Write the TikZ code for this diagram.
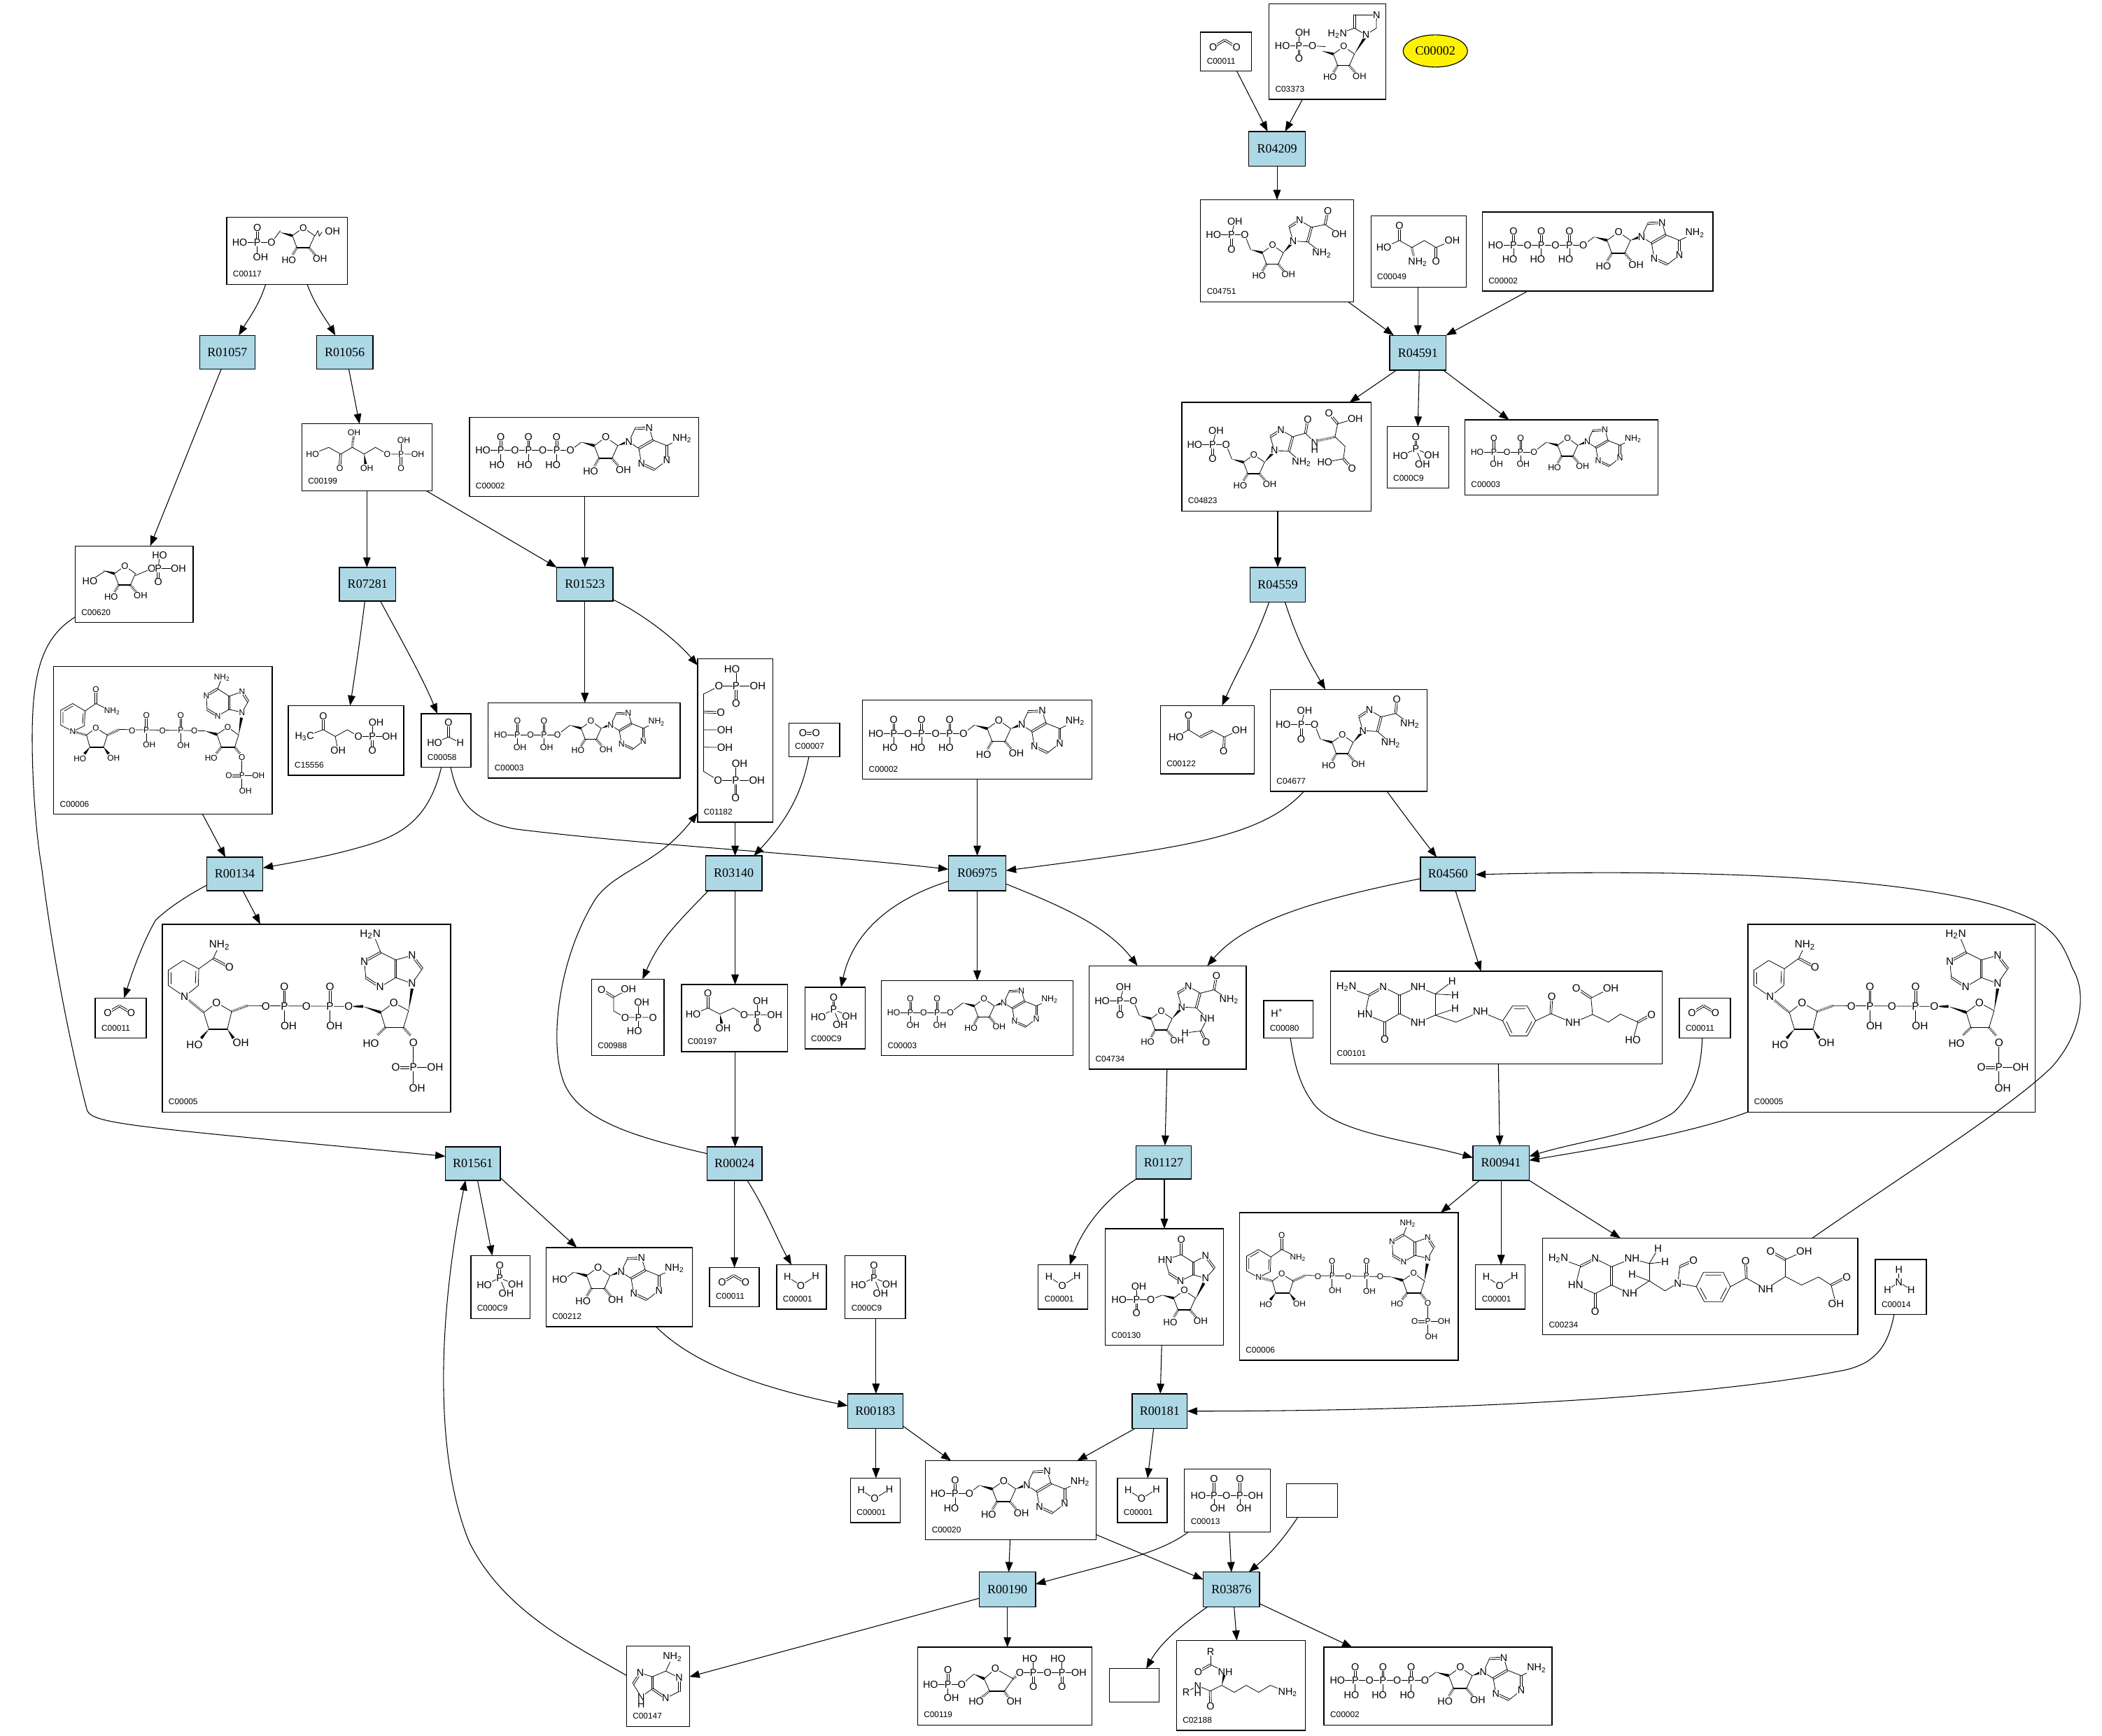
\documentclass[tikz,border=0pt]{standalone}
\usepackage{fontspec}
\usetikzlibrary{arrows.meta,calc,shapes.geometric}
\setmainfont{Liberation Serif}
\newfontfamily\afam{Liberation Sans}
\newcount\atc
\def\afs{7.5}
\def\At(#1)#2{\global\advance\atc by 1 \node[atm] (at\the\atc) at (#1) {#2};}
\def\Bd(#1)(#2){\draw[bd] (#1)--(#2);}
\def\Db(#1)(#2){\draw[bd] ($(#1)!.7pt!90:(#2)$)--($(#2)!.7pt!-90:(#1)$);\draw[bd] ($(#1)!.7pt!-90:(#2)$)--($(#2)!.7pt!90:(#1)$);}
\def\Wd(#1)(#2){\fill ($(#2)!1.1pt!90:(#1)$)--($(#2)!1.1pt!-90:(#1)$)--(#1)--cycle;}
\def\Hs(#1)(#2){\draw[line width=1.9pt,dash pattern=on .35pt off .75pt] (#1)--(#2);}
\def\Sc(#1,#2)#3{\begin{scope}[shift={(#1,#2)}]#3\end{scope}}
\def\Scs(#1,#2,#3)#4{\begin{scope}[shift={(#1,#2)},scale=#3,transform shape]#4\end{scope}}
% phosphate with O above and HO / OH below
\def\PuA(#1,#2){\Sc(#1,#2){\Db(0,0)(0,-10.1)\Bd(0,0)(0,10.8)\At(0,-10.1){O}\At(-2.8,10.8){HO}\At(0,0){P}}}
\def\PuB(#1,#2){\Sc(#1,#2){\Db(0,0)(0,-12.3)\Bd(0,0)(0,10.7)\At(0,-12.3){O}\At(2.3,10.7){OH}\At(0,0){P}}}
% ribose ring, origin at ring O
\def\Rib{\draw[bd] (0,0)--(8.9,6.2)--(4.6,15.7);\draw[bd,line width=.8pt] (4.6,15.7)--(-5,15.7);\draw[bd] (-5,15.7)--(-8.6,6.2)--(0,0);
 \Wd(-18.2,3.6)(-8.6,6.2)\Hs(-5,15.7)(-8.5,21.5)\Hs(4.6,15.7)(9.5,21.5)\At(0,0){O}\At(-11.3,25.4){HO}\At(13.1,24.4){OH}}
% adenine, origin at N9
\def\Adn{\Bd(0,0)(4.6,-9.9)\Db(4.6,-9.9)(15.2,-10.4)\Bd(15.2,-10.4)(18,-1.3)\Db(18,-1.3)(7.4,4.9)\Bd(7.4,4.9)(0,0)\Bd(18,-1.3)(28.2,2.8)\Db(28.2,2.8)(28.2,13.8)\Bd(28.2,13.8)(19.2,20.8)\Db(19.2,20.8)(9.4,16.2)\Bd(9.4,16.2)(7.4,4.9)\Bd(28.2,2.8)(39.7,-2.7)
 \At(0,0){N}\At(15.2,-10.4){N}\At(28.2,13.8){N}\At(9.4,16.2){N}\At(39.7,-2.7){NH\textsubscript{2}}}
% adenosine, origin at ring O
\def\Ado{\Bd(-18.2,3.6)(-26.3,9.7)\Rib\Wd(8.9,6.2)(15.6,3.7)\Sc(17.2,3.4){\Adn}}
\def\mATP{\Bd(10,24.7)(75.3,24.7)\Sc(101.6,15){\Ado}\At(10,24.7){HO}\PuA(23.3,24.7)\At(33.9,24.7){O}\PuA(44,24.7)\At(54.6,24.7){O}\PuA(65,24.7)\At(75.3,24.7){O}}
\def\mADP{\Bd(10.7,27.9)(59.9,27.9)\Bd(62.7,25.5)(59.9,27.9)\Sc(89,15.8){\Ado}\At(10.7,27.9){HO}\PuB(25.2,27.9)\At(36.6,27.9){O}\PuB(48.3,27.9)\At(59.9,27.9){O}}
\def\mAMP{\Bd(9.3,24.5)(32.7,24.5)\Sc(58.3,14.8){\Ado}\At(9.3,24.5){HO}\PuA(22,24.5)\At(32.7,24.5){O}}
\def\mAdo{\Sc(38.9,14.8){\Ado}\At(10.3,23.8){HO}}
\def\mCO{\Db(9.3,11.1)(18,5.9)\Db(18,5.9)(26.8,11.1)\At(9.3,11.1){O}\At(26.8,11.1){O}}
\def\mWat{\Bd(8,8.9)(18,15.3)\Bd(18,15.3)(29,8.3)\At(8,8.9){H}\At(29,8.3){H}\At(18,15.3){O}}
\def\mPi{\Db(21.5,7.6)(21.5,16.7)\Bd(21.5,16.7)(10,22)\Bd(21.5,16.7)(33.4,21.6)\Bd(21.5,16.7)(26.4,28.2)\At(21.5,7.6){O}\At(21.5,16.7){P}\At(10,22){HO}\At(33.4,21.6){OH}\At(26.4,28.2){OH}}
\def\mPP{\Bd(10.3,19.8)(53,19.8)\Db(22,7.7)(22,19.8)\Db(41.3,7.7)(41.3,19.8)\Bd(22,19.8)(22,29.6)\Bd(41.3,19.8)(41.3,29.6)\At(22,7.7){O}\At(41.3,7.7){O}\At(10.3,19.8){HO}\At(22,19.8){P}\At(31.3,19.8){O}\At(41.3,19.8){P}\At(53,19.8){OH}\At(24.7,29.6){OH}\At(44.3,29.6){OH}}
\def\mROneP{\Bd(9.7,18.8)(33.4,18.8)\Db(22.8,7.8)(22.8,18.8)\Bd(22.8,18.8)(22.8,29.5)\Bd(33.4,18.8)(40,10)\Scs(57.1,7.8,.95){\Rib}\draw[bd] (66,13.6)--(68,10)--(69,14)--(71,11);\At(9.7,18.8){HO}\At(22.8,18.8){P}\At(25.3,29.5){OH}\At(22.8,7.8){O}\At(33.4,18.8){O}\At(78.9,10.3){OH}}
\def\mRuP{\def\afs{6.4}\draw[bd] (8,22.5)--(20,17.5)--(29,22.5)--(37.6,17.5)--(46.5,22.5)--(54.9,17.5)--(63.7,22.5)--(86.4,22.5);\Db(29,22.5)(28.3,33)\Hs(37.6,17.5)(38.6,9)\Wd(46.5,22.5)(47.5,30)\Db(74,22.5)(74,33)\Bd(74,22.5)(74,12.2)\At(8,22.5){HO}\At(28.3,33){O}\At(39,6.6){OH}\At(48.5,33){OH}\At(63.7,22.5){O}\At(74,22.5){P}\At(76,12.2){OH}\At(86.4,22.5){OH}\At(74,33){O}}
\def\mRoneP{\Bd(11,26)(22,19)\Bd(45,22)(57,17)\Bd(57,17)(77,17)\Bd(62,17)(63,7)\Db(62,17)(62,27)\Scs(37,15,.9){\Rib}\At(11,26){HO}\At(57,17){O}\At(62,17){P}\At(63,7){HO}\At(77,17){OH}\At(62,27){O}}
\def\mNADP{\def\afs{6.2}\draw[bd] (14.2,27.5)--(5.3,32.5);\draw[bd] (5.3,32.5)--(5.3,43.5)--(14.2,48.3)--(23,44)--(23.4,33)--(14.2,27.5);\draw[bd] (7,34)--(7,42)(22,35)--(21.7,42.5)(14.4,29.3)--(8,33);\Bd(23.4,33)(31.5,27.5)\Db(31.5,27.5)(31.5,17.1)\Bd(31.5,27.5)(43.6,33.4)
 \Hs(14.2,48.3)(24.5,51)\draw[bd] (31.5,45.7)--(24.5,51)--(27,60);\draw[bd,line width=.8pt](27,60)--(37.2,60);\draw[bd] (37.2,60)--(40,51)--(31.5,45.7);\Wd(27,60)(23,65)\Wd(37.2,60)(41,65)\Hs(40,51)(49,46.8)\Bd(49,46.8)(104.9,47.7)\Db(69.1,47.3)(69.1,36.3)\Bd(69.1,47.3)(69.1,58)\Db(94.7,47.3)(94.7,36.3)\Bd(94.7,47.3)(94.7,58)
 \Wd(112.8,47.9)(121.7,50.5)\Bd(104.9,47.7)(112.8,47.9)\draw[bd] (121.7,50.5)--(129.8,45)--(137.9,51)--(135,60);\draw[bd,line width=.8pt](135,60)--(125,60);\draw[bd] (125,60)--(121.7,50.5);\Hs(125,60)(121,65)\Hs(135,60)(139,65)\Wd(137.9,51)(140,38)\Bd(140.4,67.7)(140.4,92)\Db(130.6,81.3)(140.4,81.3)\Bd(140.4,81.3)(152.6,81.3)
 \Bd(140.4,34)(145,26)\Db(145,26)(140.4,18.7)\Bd(140.4,18.7)(130.8,22)\Db(130.8,22)(130.8,31.9)\Bd(130.8,31.9)(140.4,34)\Bd(130.8,31.9)(122.3,36.7)\Db(122.3,36.7)(114.4,31.9)\Bd(114.4,31.9)(113.8,21.5)\Db(113.8,21.5)(122.3,16.5)\Bd(122.3,16.5)(130.8,22)\Bd(122.3,16.5)(125.5,8)
 \At(14.2,48.3){N}\At(31.5,17.1){O}\At(43.6,33.4){NH\textsubscript{2}}\At(31.5,45.7){O}\At(19.6,68.6){HO}\At(44.7,68){OH}\At(58.5,47.7){O}\At(69.1,47.3){P}\At(69.1,36.3){O}\At(71.3,58.2){OH}\At(81.1,47.7){O}\At(94.7,47.3){P}\At(94.7,36.3){O}\At(96.8,58.7){OH}\At(104.9,47.7){O}\At(129.8,45){O}\At(117.4,68){HO}\At(140.4,67.7){O}\At(140.4,81.3){P}\At(130.6,81.3){O}\At(152.6,81.3){OH}\At(143,92.7){OH}\At(140.4,34){N}\At(140.4,18.7){N}\At(122.3,36.7){N}\At(113.8,21.5){N}\At(125.5,8){NH\textsubscript{2}}}
\def\mNADPH{\def\afs{8}\draw[bd] (15.5,27)--(4.5,34.3)--(4.5,45.7)--(16.6,54)--(26.8,45.7)--(27.2,33.2)--(15.5,27);\draw[bd] (6.5,36)--(6.5,44.5)(25,35)--(24.7,44);\Bd(27.2,33.2)(37.9,25.5)\Bd(37.9,25.5)(42.6,15.6)\Db(37.9,25.5)(50,32)
 \Hs(16.6,54)(30.9,65.8)\draw[bd] (40.4,58.5)--(30.9,65.8)--(34.7,78.2);\draw[bd,line width=.9pt](34.7,78.2)--(48.5,78.2);\draw[bd] (48.5,78.2)--(51.7,65)--(40.4,58.5);\Wd(34.7,78.2)(29,85)\Wd(48.5,78.2)(53,85)\Hs(51.7,65)(63.4,60.7)\Bd(63.4,60.7)(139,61.3)\Db(91,61.3)(91,46.8)\Bd(91,61.3)(91,74)\Db(125,61.3)(125,46.8)\Bd(125,61.3)(125,74)
 \Wd(139,61.3)(149.6,61.3)\Wd(149.6,61.3)(162.8,65.7)\draw[bd] (162.8,65.7)--(172.6,58.5)--(183.6,64.4)--(179.8,77);\draw[bd,line width=.9pt](179.8,77)--(166.2,77);\draw[bd] (166.2,77)--(162.8,65.7);\Hs(166.2,77)(160,83)\Hs(179.8,77)(185,83)\Wd(183.6,64.4)(186.2,48)\Bd(187.2,88.6)(187.2,122)\Db(174,106.8)(187.2,106.8)\Bd(187.2,106.8)(203.4,106.8)
 \Bd(186.2,44.2)(193.8,33.2)\Db(193.8,33.2)(186.2,23.3)\Bd(186.2,23.3)(174,26.6)\Db(174,26.6)(174,39.8)\Bd(174,39.8)(186.2,44.2)\Bd(174,39.8)(162.3,46.8)\Db(162.3,46.8)(151.7,39.8)\Bd(151.7,39.8)(150.6,27.7)\Db(150.6,27.7)(162.8,21)\Bd(162.8,21)(174,26.6)\Bd(162.8,21)(158,9)
 \At(16.6,54){N}\At(42.6,15.6){NH\textsubscript{2}}\At(50,32){O}\At(40.4,58.5){O}\At(24,89.7){HO}\At(58.5,88.6){OH}\At(77.2,61.3){O}\At(91,61.3){P}\At(91,46.8){O}\At(94.2,76){OH}\At(107.4,61.3){O}\At(125,61.3){P}\At(125,46.8){O}\At(128.3,76){OH}\At(139,61.3){O}\At(172.6,58.5){O}\At(155.5,89){HO}\At(187.2,88.6){O}\At(187.2,106.8){P}\At(174,106.8){O}\At(203.4,106.8){OH}\At(190,122){OH}\At(186.2,44.2){N}\At(186.2,23.3){N}\At(162.3,46.8){N}\At(150.6,27.7){N}\At(155,7.5){H\textsubscript{2}N}}
\def\mHAc{\Bd(12,23)(26,18)\Db(26,18)(26,7.7)\draw[bd] (26,18)--(34.9,23)--(44,18)--(52.2,23)--(75.5,23);\Bd(34.9,23)(37,33.4)\Bd(62.6,23)(62.6,12.5)\Db(62.6,23)(62.6,33.4)\At(12,23){H\textsubscript{3}C}\At(26,7.7){O}\At(37,33.4){OH}\At(52.2,23){O}\At(62.6,23){P}\At(65.4,12.5){OH}\At(75.5,23){OH}\At(62.6,33.4){O}}
\def\mFor{\Db(20.4,6.8)(20.4,17.4)\Bd(10,21.8)(20.4,17.4)\Bd(20.4,17.4)(29.2,21.8)\At(20.4,6.8){O}\At(10,21.8){HO}\At(29.2,21.8){H}}
\def\mRuBP{\def\afs{7.8}\Bd(4.5,26.4)(15.9,20.6)\Bd(15.9,20.6)(44.9,20.6)\Bd(28.7,20.6)(28.7,7.8)\Db(28.7,20.6)(28.7,33.6)\Bd(4.5,26.4)(4.5,84)\Db(4.5,39.8)(17.4,40.2)\Bd(4.5,53)(20.4,53.2)\Bd(4.5,66)(20.4,66.2)\Bd(4.5,84)(15.3,90.7)\Bd(15.3,90.7)(44.3,90.7)\Bd(28.4,90.7)(28.4,78.4)\Db(28.4,90.7)(28.4,103.9)\At(25.7,7.8){HO}\At(15.9,20.6){O}\At(28.7,20.6){P}\At(44.9,20.6){OH}\At(28.7,33.6){O}\At(17.4,40.2){O}\At(20.4,53.2){OH}\At(20.4,66.2){OH}\At(15.3,90.7){O}\At(28.4,90.7){P}\At(31.4,78.4){OH}\At(44.3,90.7){OH}\At(28.4,103.9){O}}
\def\mOO{\Db(10.5,7.6)(20.4,7.6)\At(10.5,7.6){O}\At(20.4,7.6){O}}
\def\mPG{\Db(7.5,7.8)(16.5,13.4)\Bd(16.5,13.4)(27.5,7.6)\draw[bd](16.5,13.4)--(16.5,23.7)--(25,28.5)--(45.8,28.5);\Bd(35,28.5)(35,17.5)\Bd(35,28.5)(35,38.8)\At(7.5,7.8){O}\At(27.5,7.6){OH}\At(25,28.5){O}\At(35,28.5){P}\At(37.4,17.5){OH}\At(45.8,28.5){O}\At(32,38.8){HO}}
\def\mGA{\Db(19.8,6.6)(19.8,17.5)\draw[bd](8.7,22)--(19.8,17.5)--(28.7,22)--(38.6,17.5)--(46.7,22.5)--(69.5,22.5);\Wd(28.7,22)(30,29)\Bd(56.6,22.5)(56.6,12.4)\Db(56.6,22.5)(56.6,32.4)\At(19.8,6.6){O}\At(8.7,22){HO}\At(31.1,32.8){OH}\At(46.7,22.5){O}\At(56.6,22.5){P}\At(59,12.4){OH}\At(69.5,22.5){OH}\At(56.6,32.4){O}}
\def\mFum{\Bd(11.8,23.5)(21,18.1)\Db(21,18.1)(21,7.4)\Bd(21,18.1)(29.8,23.5)\Db(29.8,23.5)(38.9,18.8)\Bd(38.9,18.8)(47.7,23.5)\Db(47.7,23.5)(47.2,33.8)\Bd(47.7,23.5)(59,18.1)\At(11.8,23.5){HO}\At(21,7.4){O}\At(47.2,33.8){O}\At(59,18.1){OH}}
% phosphoribosyl imidazole core
\def\ImzRib{\Bd(9.6,26.2)(33,26.2)\Bd(33,26.2)(37.3,37)\Db(23,26.2)(23,36.9)\Bd(23,26.2)(25.6,15.9)\Scs(53.7,33.8,.9){\Rib}\Wd(61.7,39.4)(67.8,32.5)\Bd(69,30.7)(66,20.4)\Db(66,20.4)(73.9,15.3)\Bd(73.9,15.3)(82.7,20.4)\Db(82.7,20.4)(79.8,31.3)\Bd(79.8,31.3)(69,30.7)\At(25.6,15.9){OH}\At(9.6,26.2){HO}\At(23,26.2){P}\At(23,36.9){O}\At(33,26.2){O}\At(69,30.7){N}\At(73.9,15.3){N}}
\def\mAIRc{\ImzRib\Bd(82.7,20.4)(92.8,18.4)\Db(92.8,18.4)(94.9,8.2)\Bd(92.8,18.4)(103.3,25.4)\Bd(79.8,31.3)(90.4,39.8)\At(94.9,8.2){O}\At(103.3,25.4){OH}\At(90.4,39.8){NH\textsubscript{2}}}
\def\mAICAR{\ImzRib\Bd(82.7,20.4)(93.4,17.9)\Db(93.4,17.9)(94.3,7.6)\Bd(93.4,17.9)(104,25.6)\Bd(79.8,31.3)(89.8,40)\At(94.3,7.6){O}\At(104,25.6){NH\textsubscript{2}}\At(89.8,40){NH\textsubscript{2}}}
\def\mFAICAR{\ImzRib\Bd(82.7,20.4)(93,17.9)\Db(93,17.9)(94.8,7.6)\Bd(93,17.9)(104.2,25.3)\Bd(79.8,31.3)(88,39.3)\Bd(88,39.3)(83.2,48.6)\Bd(83.2,48.6)(71.4,50)\Db(83.2,48.6)(87.2,57)\At(94.8,7.6){O}\At(104.2,25.3){NH\textsubscript{2}}\At(88,39.3){NH}\At(71.4,50){H}\At(87.2,57){O}}
\def\mSAICAR{\Sc(0,5.2){\ImzRib\Bd(82.7,20.4)(92.2,17.7)\Db(92.2,17.7)(93.9,7.8)\Bd(92.2,17.7)(99,24.5)\Bd(79.8,31.3)(89.3,39.5)\At(93.9,7.8){O}\At(89.3,39.5){NH\textsubscript{2}}}\Hs(102,28.5)(114.2,25.6)\Bd(114.2,25.6)(116.2,15.9)\Db(116.2,15.9)(109.7,8)\Bd(116.2,15.9)(129.3,12.2)\draw[bd](114.2,25.6)--(121.7,32.8)--(120.5,42)--(106.6,44.7);\Db(120.5,42)(126.9,49.3)\At(99,29.7){N}\At(99,35.3){H}\At(109.7,8){O}\At(129.3,12.2){OH}\At(106.6,44.7){HO}\At(126.9,49.3){O}}
\def\mAIR{\Bd(10,31.2)(32.4,31.2)\Bd(32.4,31.2)(42,31.7)\Db(22.4,31.2)(22.4,40.4)\Bd(22.4,31.2)(22.4,21.3)\Scs(55.7,31.7,.9){\Rib}\Wd(63.7,37.2)(71.5,25)\draw[bd](72.3,23)--(80,18)--(80.2,8);\Bd(80.2,8)(63.7,8)\Db(63.7,8)(63.7,18)\Bd(63.7,18)(72.3,23)\Bd(63.7,18)(55,21)\At(25.2,21.3){OH}\At(10,31.2){HO}\At(22.4,31.2){P}\At(22.4,40.4){O}\At(32.4,31.2){O}\At(72.3,23){N}\At(80.2,8){N}\At(51,22.4){H\textsubscript{2}N}}
\def\mIMP{\Db(56.6,8.2)(56.6,19.4)\Bd(56.6,19.4)(44.6,23)\Bd(44.6,23)(47.5,33.3)\Db(47.5,33.3)(56,38.9)\Bd(56,38.9)(65.6,34.3)\Db(65.6,34.3)(65.6,25)\Bd(65.6,25)(56.6,19.4)\Bd(65.6,25)(74.7,20.3)\Db(74.7,20.3)(81.4,29.6)\Bd(81.4,29.6)(74.7,37)\Bd(74.7,37)(65.6,34.3)\Bd(10.2,52.9)(33.9,52.9)\Bd(33.9,52.9)(41.9,49.7)\Db(23.3,52.9)(23.3,63.1)\Bd(23.3,52.9)(23.3,43.2)\Scs(58.9,46,.93){\Rib}\Wd(67.2,52.5)(73.5,40.5)\At(56.6,8.2){O}\At(44.6,23){HN}\At(56,38.9){N}\At(74.7,20.3){N}\At(74.7,37){N}\At(25,43.2){OH}\At(10.2,52.9){HO}\At(23.3,52.9){P}\At(23.3,63.1){O}\At(33.9,52.9){O}}
\def\mAde{\Bd(34.3,8.3)(29.3,18.8)\Bd(29.3,18.8)(39.3,23.7)\Db(39.3,23.7)(39.3,34)\Bd(39.3,34)(29.3,39)\Db(29.3,39)(19.3,32)\Db(19.3,32)(19.3,23)\Bd(19.3,23)(29.3,18.8)\Bd(19.3,23)(10.3,20.2)\Db(10.3,20.2)(5,28.3)\Bd(5,28.3)(11,38)\Bd(11,38)(19.3,32)\Bd(11,38)(11,43.5)\At(34.3,8.3){NH\textsubscript{2}}\At(39.3,23.7){N}\At(29.3,39){N}\At(10.3,20.2){N}\At(11,38){N}\At(11,43.5){H}}
\def\mPRPP{\Bd(9.7,27.8)(33,27.8)\Bd(33,27.8)(42,20)\Db(22.7,27.8)(22.7,17)\Bd(22.7,27.8)(22.7,37.9)\Wd(42,20)(49.7,23.5)\draw[bd](49.7,23.5)--(58,16)--(71.3,23.5)--(64.7,32.7);\draw[bd,line width=.8pt](64.7,32.7)--(53.7,32.7);\draw[bd](53.7,32.7)--(49.7,23.5);\Hs(53.7,32.7)(47,38)\Hs(64.7,32.7)(68,38)\Hs(71.3,23.5)(75,20)\Bd(76.3,19)(120.3,19)\Bd(86.3,19)(86.3,8.3)\Db(86.3,19)(86.3,29.6)\Bd(107.7,19)(107.7,8.3)\Db(107.7,19)(107.7,29.6)\At(9.7,27.8){HO}\At(22.7,27.8){P}\At(22.7,17){O}\At(25.3,37.9){OH}\At(33,27.8){O}\At(58,16){O}\At(43.7,40.5){HO}\At(72,40.5){OH}\At(76.3,19){O}\At(86.3,19){P}\At(83.7,8.3){HO}\At(86.3,29.6){O}\At(97,19){O}\At(107.7,19){P}\At(104.7,8.3){HO}\At(107.7,29.6){O}\At(120.3,19){OH}}
\def\mLys{\Bd(25.4,8.2)(25.4,18)\Db(25.4,18)(16.3,23.3)\Bd(25.4,18)(36.4,23.3)\Wd(33.8,33.4)(35.8,25)\draw[bd](33.8,33.4)--(43.1,38.6)--(52,33.4)--(61.3,38.6)--(70,33.4)--(83,38.6);\Bd(33.8,33.4)(25.2,37.6)\Db(25.2,37.6)(25.4,48.9)\Bd(25.2,37.6)(15.9,33.7)\Bd(15.9,33.7)(7.2,38.6)\At(25.4,8.2){R}\At(16.3,23.3){O}\At(36.4,23.3){NH}\At(25.4,48.9){O}\At(15.9,33.7){N}\At(15.9,39.3){H}\At(7.2,38.6){R}\At(83,38.6){NH\textsubscript{2}}}
\def\mAmm{\Bd(17.6,7.7)(17.6,16.8)\Bd(17.6,16.8)(9.2,22.6)\Bd(17.6,16.8)(26.8,22.6)\At(17.6,7.7){H}\At(17.6,16.8){N}\At(9.2,22.6){H}\At(26.8,22.6){H}}
\def\mHp{\At(10,9){H\textsuperscript{+}}}
\def\mAsp{\Db(21.2,7.5)(21.2,18.3)\draw[bd](9.6,23.5)--(21.2,18.3)--(30.5,23.5)--(39.8,18.3)--(48.5,23.5)--(60.6,18.3);\Hs(30.5,23.5)(32,30)\Db(48.5,23.5)(48.5,33.6)\At(21.2,7.5){O}\At(9.6,23.5){HO}\At(34.9,34.3){NH\textsubscript{2}}\At(60.6,18.3){OH}\At(48.5,33.6){O}}
\def\mTHF{\def\afs{7.8}\Bd(11.7,11.9)(28.6,17.9)\Db(28.6,17.9)(39.2,11.9)\Bd(39.2,11.9)(51.3,17.9)\Db(51.3,17.9)(51.3,31.7)\Bd(51.3,31.7)(40.3,38)\Db(40.3,38)(40.3,50.9)\Bd(40.3,38)(25.6,32.1)\Bd(25.6,32.1)(28.6,17.9)\Bd(51.3,17.9)(65.2,11.9)\Bd(65.2,11.9)(78,17)\Bd(78,17)(90.5,7.7)\Bd(78,17)(92.7,17.9)\Bd(78,17)(78,32.8)\Bd(78,32.8)(92.7,27.9)\Bd(78,32.8)(65.2,38.3)\Bd(65.2,38.3)(51.3,31.7)\draw[bd](78,32.8)--(93.4,38)--(111.7,30.2);\Bd(111.7,30.2)(128.2,37)\draw[bd](128.2,37)--(135.5,26)--(146.5,26)--(152.8,37)--(146.5,48.3)--(133.7,48.3)--(128.2,37);\draw[bd](137,28)--(145,28)(131,37.5)--(135,46)(150,37.5)--(145.5,46);\Bd(152.8,37)(164.1,31.7)\Db(164.1,31.7)(164.8,18.9)\Bd(164.1,31.7)(180.6,38.5)\Bd(180.6,38.5)(195.2,32.3)\Bd(195.2,32.3)(194.1,20)\Db(194.1,20)(183.1,12.6)\Bd(194.1,20)(208.8,12.6)\draw[bd](195.2,32.3)--(207,38)--(216,32)--(229,38);\Db(229,38)(239.2,32.3)\Bd(229,38)(225.3,51.5)\At(11.7,11.9){H\textsubscript{2}N}\At(39.2,11.9){N}\At(65.2,11.9){NH}\At(90.5,7.7){H}\At(92.7,17.9){H}\At(92.7,27.9){H}\At(65.2,38.3){NH}\At(40.3,50.9){O}\At(25.6,32.1){HN}\At(111.7,30.2){NH}\At(164.8,18.9){O}\At(180.6,38.5){NH}\At(183.1,12.6){O}\At(208.8,12.6){OH}\At(239.2,32.3){O}\At(225.3,51.5){HO}}
\def\mFTHF{\def\afs{7.8}\Bd(11.7,14.9)(28.2,20.9)\Db(28.2,20.9)(39.2,15.3)\Bd(39.2,15.3)(51.3,21.3)\Db(51.3,21.3)(51.3,35)\Bd(51.3,35)(39.2,41.4)\Db(39.2,41.4)(39.2,54.7)\Bd(39.2,41.4)(24.6,35)\Bd(24.6,35)(28.2,20.9)\Bd(51.3,21.3)(66.7,15.3)\Bd(66.7,15.3)(79.5,19)\Bd(79.5,19)(86,8)\Bd(79.5,19)(91.2,17.7)\Bd(79.5,19)(79.5,31.9)\Bd(79.5,31.9)(66.7,27)\Bd(79.5,31.9)(64.9,41.4)\Bd(64.9,41.4)(51.3,35)\draw[bd](79.5,31.9)--(91.2,39.3)--(100.7,33.6);\Bd(100.7,33.6)(102.2,21.3)\Db(102.2,21.3)(112.5,16.6)\Bd(100.7,33.6)(114.6,36.2)\draw[bd](114.6,36.2)--(119.9,25.5)--(134.6,25.5)--(140,36.2)--(134,47.4)--(120.5,47.4)--(114.6,36.2);\draw[bd](121.5,27.5)--(133,27.5)(117.5,37)--(122,45.5)(137,37)--(132.5,45.5);\Bd(140,36.2)(151.8,29.8)\Db(151.8,29.8)(151.3,17)\Bd(151.8,29.8)(166.3,37.9)\Bd(166.3,37.9)(181,28.7)\Bd(181,28.7)(181,16)\Db(181,16)(170,10)\Bd(181,16)(195,9.6)\draw[bd](181,28.7)--(193,35)--(205.7,29)--(215,35);\Db(215,35)(226.7,29)\Bd(215,35)(218.7,49)\At(11.7,14.9){H\textsubscript{2}N}\At(39.2,15.3){N}\At(66.7,15.3){NH}\At(86,8){H}\At(91.2,17.7){H}\At(66.7,27){H}\At(64.9,41.4){NH}\At(39.2,54.7){O}\At(24.6,35){HN}\At(100.7,33.6){N}\At(112.5,16.6){O}\At(151.3,17){O}\At(166.3,37.9){NH}\At(170,10){O}\At(195,9.6){OH}\At(226.7,29){O}\At(218.7,49){OH}}
\newcommand\cpd[8]{%
 \node[cbox,minimum width={(#4-#2)*1pt},minimum height={(#5-#3)*1pt}] (#1) at ({(#2+#4)/2},{(#3+#5)/2}) {};
 \begin{scope}[shift={(#2,#3)},scale=#8,transform shape]#7\end{scope}
 \node[clbl,anchor=west] (#1l) at ([xshift=4.5pt,yshift=7.6pt]#1.south west) {#6};}
\newcommand\rxn[5]{\node[rbox,minimum width={(#4-#2)*1pt},minimum height={(#5-#3)*1pt}] (#1) at ({(#2+#4)/2},{(#3+#5)/2}) {#1};}
\begin{document}
\begin{tikzpicture}[x=1pt,y=-1pt,
 bd/.style={line width=.4pt,line cap=round},
 atm/.style={font=\afam\fontsize{\afs}{\afs}\selectfont,fill=white,inner sep=.15pt},
 cbox/.style={draw=black,fill=white,line width=.7pt,inner sep=0pt,outer sep=0pt},
 clbl/.style={font=\afam\fontsize{6.2}{6.4}\selectfont,inner sep=0pt},
 rbox/.style={draw=black,fill=lightblue,line width=.7pt,inner sep=0pt,outer sep=0pt,font=\fontsize{9.4}{10}\selectfont,text=black},
 ed/.style={line width=.55pt,-{Triangle[length=7.5pt,width=5.6pt]}}]
\definecolor{lightblue}{HTML}{ADD8E6}
\useasboundingbox (0,0) rectangle (1567,1293.7);
\fill[white] (0,0) rectangle (1567,1293.7);
% compounds
\cpd{cotwoa}{895}{24}{933}{53}{C00011}{\mCO}{1}
\cpd{cAIR}{946}{3}{1033}{74}{C03373}{\mAIR}{1}
\node[draw=black,fill=yellow,ellipse,minimum width=48pt,minimum height=24pt,inner sep=0pt,outer sep=0pt,line width=.6pt,font=\fontsize{9.4}{10}\selectfont] (yC00002) at (1070,38) {C00002};
\cpd{cCAIR}{895}{149}{1009}{225}{C04751}{\mAIRc}{1}
\cpd{cAsp}{1022}{161}{1093}{214}{C00049}{\mAsp}{1}
\cpd{catpa}{1105}{158}{1277}{217}{C00002}{\mATP}{1}
\cpd{cSAI}{881}{300}{1022}{381}{C04823}{\mSAICAR}{1}
\cpd{cpia}{1034}{318}{1080}{364}{C000C9}{\mPi}{1}
\cpd{cadpa}{1092}{313}{1236}{369}{C00003}{\mADP}{.86}
\cpd{cFum}{865}{526}{935}{577}{C00122}{\mFum}{1}
\cpd{cAICAR}{947}{514}{1064}{590}{C04677}{\mAICAR}{1}
\cpd{catpc}{643}{522}{814}{581}{C00002}{\mATP}{1}
\cpd{cRuBP}{520}{491}{576}{613}{C01182}{\mRuBP}{1}
\cpd{cOO}{588}{539}{626}{564}{C00007}{\mOO}{1}
\cpd{cRfP}{169}{162}{259}{212}{C00117}{\mROneP}{1}
\cpd{cRu}{225}{316}{322}{366}{C00199}{\mRuP}{1}
\cpd{catpb}{350}{311}{521}{370}{C00002}{\mATP}{1}
\cpd{cRone}{56}{407}{144}{464}{C00620}{\mRoneP}{1}
\cpd{cNADPa}{40}{497}{203}{607}{C00006}{\mNADP}{1}
\cpd{cHAc}{215}{526}{301}{578}{C15556}{\mHAc}{1}
\cpd{cFor}{314}{532}{351}{572}{C00058}{\mFor}{1}
\cpd{cadpb}{364}{524}{507}{580}{C00003}{\mADP}{.86}
\cpd{cNPHa}{121}{689}{336}{829}{C00005}{\mNADPH}{1}
\cpd{cotwob}{71}{744}{109}{774}{C00011}{\mCO}{1}
\cpd{cPG}{441}{730}{495}{787}{C00988}{\mPG}{1}
\cpd{cGA}{508}{734}{587}{784}{C00197}{\mGA}{1}
\cpd{cpib}{600}{736}{645}{782}{C000C9}{\mPi}{1}
\cpd{cadpc}{657}{731}{800}{787}{C00003}{\mADP}{.86}
\cpd{cFAI}{812}{720}{929}{797}{C04734}{\mFAICAR}{1}
\cpd{cHp}{942}{746}{979}{774}{C00080}{\mHp}{1}
\cpd{cTHF}{992}{724}{1239}{793}{C00101}{\mTHF}{1}
\cpd{cotwoc}{1252}{744}{1290}{774}{C00011}{\mCO}{1}
\cpd{cNPHb}{1303}{689}{1517}{829}{C00005}{\mNADPH}{1}
\cpd{cpic}{351}{936}{395}{983}{C000C9}{\mPi}{1}
\cpd{cAdo}{407}{930}{516}{989}{C00212}{\mAdo}{1}
\cpd{cotwod}{529}{945}{566}{974}{C00011}{\mCO}{1}
\cpd{cwa}{579}{943}{616}{976}{C00001}{\mWat}{1}
\cpd{cpid}{630}{936}{675}{983}{C000C9}{\mPi}{1}
\cpd{cwb}{774}{943}{811}{976}{C00001}{\mWat}{1}
\cpd{cIMP}{824}{916}{912}{1003}{C00130}{\mIMP}{1}
\cpd{cNADPb}{924}{904}{1087}{1014}{C00006}{\mNADP}{1}
\cpd{cwc}{1100}{943}{1137}{976}{C00001}{\mWat}{1}
\cpd{cFTHF}{1150}{923}{1385}{995}{C00234}{\mFTHF}{1}
\cpd{cAmm}{1398}{939}{1436}{980}{C00014}{\mAmm}{1}
\cpd{cwd}{634}{1102}{671}{1135}{C00001}{\mWat}{1}
\cpd{cAMP}{690}{1089}{817}{1148}{C00020}{\mAMP}{1}
\cpd{cwe}{833}{1102}{870}{1135}{C00001}{\mWat}{1}
\cpd{cPP}{883}{1095}{947}{1142}{C00013}{\mPP}{1}
\node[cbox,minimum width=38pt,minimum height=25pt] (emptya) at (978,1118.5) {};
\cpd{cAde}{467}{1227}{514}{1287}{C00147}{\mAde}{1}
\cpd{cPRPP}{684}{1228}{814}{1286}{C00119}{\mPRPP}{1}
\node[cbox,minimum width=37pt,minimum height=25pt] (emptyb) at (845.5,1256.5) {};
\cpd{cLys}{877}{1223}{973}{1290}{C02188}{\mLys}{1}
\cpd{catpd}{987}{1228}{1157}{1286}{C00002}{\mATP}{1}
% reactions
\rxn{R04209}{931}{98}{973}{124}\rxn{R04591}{1036}{250}{1078}{276}\rxn{R04559}{932}{423}{973}{449}
\rxn{R04560}{1059}{639}{1100}{664}\rxn{R06975}{707}{638}{750}{664}\rxn{R03140}{526}{638}{568}{664}
\rxn{R01057}{149}{250}{190}{275}\rxn{R01056}{236}{250}{278}{275}\rxn{R07281}{253}{423}{295}{448}
\rxn{R01523}{415}{423}{457}{448}\rxn{R00134}{154}{639}{196}{664}\rxn{R00941}{1098}{854}{1140}{880}
\rxn{R01561}{332}{855}{373}{880}\rxn{R00024}{527}{855}{568}{880}\rxn{R01127}{847}{854}{888}{879}
\rxn{R00183}{632}{1039}{673}{1065}\rxn{R00181}{844}{1039}{885}{1065}\rxn{R00190}{730}{1172}{772}{1198}\rxn{R03876}{897}{1172}{939}{1198}
% connectors
\draw[ed] (922,0|-cotwoa.south) -- (945,0|-R04209.north);
\draw[ed] (971,0|-cAIR.south) -- (958,0|-R04209.north);
\draw[ed] (952,0|-R04209.south) -- (952,0|-cCAIR.north);
\draw[ed] (1005,0|-cCAIR.south) -- (1039,0|-R04591.north);
\draw[ed] (1057,0|-cAsp.south) -- (1057,0|-R04591.north);
\draw[ed] (1139,0|-catpa.south) -- (R04591.north east);
\draw[ed] (1041,0|-R04591.south) -- (1006,0|-cSAI.north);
\draw[ed] (1058,0|-R04591.south) -- (1057,0|-cpia.north);
\draw[ed] (1076,0|-R04591.south) -- (1125,0|-cadpa.north);
\draw[ed] (952.5,0|-cSAI.south) -- (952.5,0|-R04559.north);
\draw[ed] (946,0|-R04559.south) .. controls (935,480) and (925,495) .. (911,0|-cFum.north);
\draw[ed] (958,0|-R04559.south) .. controls (968,480) and (977,495) .. (988,0|-cAICAR.north);
\draw[ed] (1034,0|-cAICAR.south) .. controls (1045,605) and (1060,625) .. (1071,0|-R04560.north);
\draw[ed] (972,0|-cAICAR.south) .. controls (940,625) and (880,632) .. (R06975.east|-0,649);
\draw[ed] (728.5,0|-catpc.south) -- (728.5,0|-R06975.north);
\draw[ed] (728.5,0|-R06975.south) -- (728.5,0|-cadpc.north);
\draw[ed] (R06975.west|-0,657) .. controls (672,668) and (637,690) .. (627,0|-cpib.north);
\draw[ed] (R06975.east|-0,659) .. controls (790,675) and (825,690) .. (848,0|-cFAI.north);
\draw[ed] (336,0|-cFor.south) .. controls (341,597) and (352,612) .. (384,618) .. controls (480,630) and (600,636) .. (R06975.west|-0,648);
\draw[ed] (329,0|-cFor.south) .. controls (320,610) and (300,622) .. (274,630) .. controls (250,637) and (235,640) .. (R00134.east|-0,647);
\draw[ed] (151,0|-cNADPa.south) -- (168,0|-R00134.north);
\draw[ed] (R00134.west|-0,660) .. controls (135,670) and (122,680) .. (116,686) .. controls (105,705) and (97,730) .. (92.5,0|-cotwob.north);
\draw[ed] (181,0|-R00134.south) -- (194,0|-cNPHa.north);
\draw[ed] (198,0|-cRfP.south) .. controls (193,228) and (185,238) .. (178,0|-R01057.north);
\draw[ed] (229,0|-cRfP.south) .. controls (235,228) and (243,238) .. (250,0|-R01056.north);
\draw[ed] (260,0|-R01056.south) -- (268,0|-cRu.north);
\draw[ed] (165,0|-R01057.south) -- (112,0|-cRone.north);
\draw[ed] (273.5,0|-cRu.south) -- (273.5,0|-R07281.north);
\draw[ed] (318,0|-cRu.south) -- (R01523.north west);
\draw[ed] (436,0|-catpb.south) -- (436,0|-R01523.north);
\draw[ed] (272,0|-R07281.south) .. controls (268,480) and (265,500) .. (261,0|-cHAc.north);
\draw[ed] (283.5,0|-R07281.south) .. controls (298,475) and (315,505) .. (326,0|-cFor.north);
\draw[ed] (436,0|-R01523.south) -- (436,0|-cadpb.north);
\draw[ed] (R01523.east|-0,447) .. controls (480,458) and (505,478) .. (cRuBP.west|-0,496);
\draw[ed] (548,0|-cRuBP.south) -- (548,0|-R03140.north);
\draw[ed] (603,0|-cOO.south) .. controls (598,590) and (588,610) .. (562,0|-R03140.north);
\draw[ed] (528,0|-R03140.south) .. controls (505,688) and (492,700) .. (479,0|-cPG.north);
\draw[ed] (548,0|-R03140.south) -- (548,0|-cGA.north);
\draw[ed] (548,0|-cGA.south) -- (548,0|-R00024.north);
\draw[ed] (R00024.west|-0,860) .. controls (475,848) and (428,835) .. (419,803) .. controls (410,775) and (416,715) .. (444,670) .. controls (460,648) and (490,645) .. (cRuBP.west|-0,606);
\draw[ed] (547.5,0|-R00024.south) -- (547.5,0|-cotwod.north);
\draw[ed] (557,0|-R00024.south) .. controls (570,900) and (580,925) .. (590,0|-cwa.north);
\draw[ed] (cRone.west|-0,460) .. controls (32,475) and (24,500) .. (24,550) .. controls (24,590) and (28,630) .. (31,646) .. controls (40,720) and (55,790) .. (65,828) .. controls (70,838) and (100,840) .. (R01561.west|-0,862);
\draw[ed] (356,0|-R01561.south) -- (367,0|-cpic.north);
\draw[ed] (R01561.east|-0,878) -- (430,0|-cAdo.north);
\draw[ed] (489,0|-cAdo.south) .. controls (515,1015) and (560,1033) .. (R00183.west|-0,1048);
\draw[ed] (653,0|-cpid.south) -- (653,0|-R00183.north);
\draw[ed] (653,0|-R00183.south) -- (653,0|-cwd.north);
\draw[ed] (R00183.east|-0,1063) -- (709,0|-cAMP.north);
\draw[ed] (846,0|-R00181.south) -- (803,0|-cAMP.north);
\draw[ed] (860,0|-R00181.south) -- (855.5,0|-cwe.north);
\draw[ed] (866,0|-cIMP.south) -- (865,0|-R00181.north);
\draw[ed] (1412,0|-cAmm.south) .. controls (1408,1000) and (1402,1008) .. (1392,1015) .. controls (1385,1019) and (1378,1021) .. (1372,1022) .. controls (1280,1040) and (1100,1052) .. (R00181.east|-0,1052);
\draw[ed] (868,0|-R01127.south) -- (868,0|-cIMP.north);
\draw[ed] (870,0|-cFAI.south) -- (868.5,0|-R01127.north);
\draw[ed] (R01127.west|-0,879) .. controls (825,893) and (807,915) .. (797.5,0|-cwb.north);
\draw[ed] (753,0|-cAMP.south) -- (752,0|-R00190.north);
\draw[ed] (cAMP.east|-0,1144) -- (R03876.west|-0,1177.5);
\draw[ed] (886,0|-cPP.south) .. controls (865,1158) and (830,1165) .. (R00190.east|-0,1181);
\draw[ed] (916.5,0|-cPP.south) -- (918,0|-R03876.north);
\draw[ed] (967.5,0|-emptya.south) .. controls (955,1150) and (945,1160) .. (931,0|-R03876.north);
\draw[ed] (900,0|-R03876.south) .. controls (880,1212) and (865,1225) .. (854.5,0|-emptyb.north);
\draw[ed] (920,0|-R03876.south) -- (922,0|-cLys.north);
\draw[ed] (R03876.east|-0,1195.5) -- (1008,0|-catpd.north);
\draw[ed] (751,0|-R00190.south) -- (751,0|-cPRPP.north);
\draw[ed] (R00190.west|-0,1191.5) -- (cAde.east|-0,1250);
\draw[ed] (cAde.west|-0,1249) .. controls (425,1225) and (375,1200) .. (350,1150) .. controls (325,1090) and (325,990) .. (347,0|-R01561.south);
\draw[ed] (R04560.west|-0,655) .. controls (985,670) and (930,685) .. (900,0|-cFAI.north);
\draw[ed] (1085,0|-R04560.south) -- (1104,0|-cTHF.north);
\draw[ed] (1117,0|-cTHF.south) -- (1118,0|-R00941.north);
\draw[ed] (962,0|-cHp.south) .. controls (965,795) and (970,812) .. (981,825) .. controls (1000,845) and (1050,850) .. (R00941.west|-0,863);
\draw[ed] (1269,0|-cotwoc.south) .. controls (1268,800) and (1262,815) .. (1248,829) .. controls (1225,845) and (1180,850) .. (R00941.east|-0,862);
\draw[ed] (cNPHb.south west) .. controls (1260,845) and (1200,855) .. (R00941.east|-0,865);
\draw[ed] (1103,0|-R00941.south) -- (1074,0|-cNADPb.north);
\draw[ed] (1119,0|-R00941.south) -- (1119,0|-cwc.north);
\draw[ed] (R00941.south east) -- (1208,0|-cFTHF.north);
\draw[ed] (1351,0|-cFTHF.north) .. controls (1420,875) and (1500,825) .. (1530,795) .. controls (1552,770) and (1556,740) .. (1545,722) .. controls (1535,695) and (1525,688) .. (1497,678) .. controls (1420,652) and (1250,648) .. (R04560.east|-0,652);
\end{tikzpicture}
\end{document}
